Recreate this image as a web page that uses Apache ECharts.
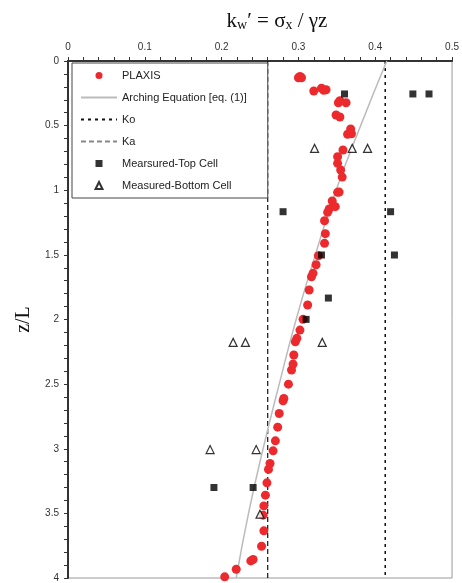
<!DOCTYPE html>
<html>
<head>
<meta charset="utf-8">
<script src="https://cdn.jsdelivr.net/npm/echarts@6/dist/echarts.min.js"></script>
<style>html,body{margin:0;padding:0;background:#fff}#c{width:462px;height:583px}</style>
</head>
<body>
<div id="c"></div>
<script>
// PLAXIS results: kw' values and z/L depths
var plaxisK = [0.300,0.302,0.304,0.320,0.330,0.333,0.336,0.354,0.352,0.362,0.349,0.354,0.368,0.364,0.369,0.358,0.351,0.351,0.355,0.357,0.351,0.353,0.344,0.348,0.340,0.338,0.334,0.335,0.334,0.326,0.323,0.319,0.317,0.314,0.312,0.306,0.302,0.298,0.296,0.294,0.293,0.291,0.287,0.281,0.280,0.275,0.273,0.270,0.267,0.263,0.261,0.259,0.257,0.255,0.254,0.255,0.252,0.241,0.238,0.219,0.204];
var plaxisZ = [0.13,0.12,0.13,0.232,0.211,0.227,0.222,0.307,0.323,0.323,0.418,0.433,0.526,0.567,0.563,0.689,0.740,0.792,0.843,0.898,1.016,1.014,1.083,1.127,1.145,1.171,1.236,1.336,1.411,1.507,1.576,1.643,1.669,1.772,1.888,1.999,2.082,2.146,2.172,2.275,2.345,2.391,2.500,2.611,2.629,2.727,2.833,2.939,3.016,3.114,3.160,3.264,3.359,3.442,3.514,3.635,3.754,3.857,3.868,3.932,3.991];
// Arching equation curve
var archK = [0.415,0.381,0.349,0.322,0.297,0.275,0.254,0.235,0.219];
var archZ = [0,0.5,1,1.5,2,2.5,3,3.5,4];
// Earth pressure coefficients
var Ko = 0.413;
var Ka = 0.260;
// Measured top cell
var topK = [0.360,0.449,0.470,0.280,0.420,0.330,0.425,0.339,0.310,0.190,0.241];
var topZ = [0.255,0.255,0.255,1.166,1.166,1.501,1.501,1.834,1.999,3.300,3.300];
// Measured bottom cell
var botK = [0.321,0.370,0.390,0.215,0.231,0.331,0.185,0.245,0.250];
var botZ = [0.676,0.676,0.676,2.177,2.177,2.177,3.006,3.006,3.506];
var xTicks = [0,0.1,0.2,0.3,0.4,0.5];
var yTicks = [0,0.5,1,1.5,2,2.5,3,3.5,4];

function pairs(a,b){return a.map(function(v,i){return [v,b[i]];});}

var chart = echarts.init(document.getElementById('c'), null, {renderer:'canvas'});
var labelFont = {fontFamily:'Liberation Sans, Arial', fontSize:10, color:'#333'};
var hideSym = {opacity:0};
chart.setOption({
  animation:false,
  backgroundColor:'#fff',
  title:{
    text:'k{s|w}′ = σ{s|x} / γz',
    left:272, top:5, textAlign:'center',
    textStyle:{fontFamily:'Liberation Serif, Times New Roman', fontSize:21, fontWeight:'normal', color:'#111',
      rich:{s:{fontFamily:'Liberation Serif', fontSize:14, color:'#111', verticalAlign:'bottom', padding:[8,0,0,0]}}}
  },
  grid:{left:68, top:61, right:8, bottom:5, show:true, borderColor:'#999', borderWidth:1, containLabel:false},
  legend:{
    orient:'vertical', left:72, top:63,
    padding:[7,21,7,8],
    backgroundColor:'#fff',
    borderColor:'#444', borderWidth:1,
    itemWidth:36, itemHeight:7, itemGap:11,
    textStyle:{fontFamily:'Liberation Sans, Arial', fontSize:11, color:'#222', lineHeight:11},
    data:[
      {name:'PLAXIS', icon:'circle'},
      {name:'Arching Equation [eq. (1)]', itemStyle:hideSym},
      {name:'Ko', itemStyle:hideSym},
      {name:'Ka', itemStyle:hideSym, lineStyle:{color:'#888'}},
      {name:'Mearsured-Top Cell', icon:'path://M0,0L10,0L10,10L0,10Z'},
      {name:'Measured-Bottom Cell', icon:'path://M5,0L10,10L0,10Z'}
    ]
  },
  xAxis:{
    type:'value', position:'top', min:0, max:0.5, interval:0.1,
    axisLine:{show:true, onZero:false, lineStyle:{color:'#333', width:2}},
    axisTick:{show:true, length:4, lineStyle:{color:'#333'}},
    minorTick:{show:true, splitNumber:5, length:4, lineStyle:{color:'#333'}},
    splitLine:{show:false},
    axisLabel:Object.assign({margin:9, formatter:function(v){return String(+v.toFixed(1));}}, labelFont)
  },
  yAxis:{
    type:'value', inverse:true, min:0, max:4, interval:0.5,
    name:'z/L', nameLocation:'middle', nameGap:32, nameRotate:90,
    nameTextStyle:{fontFamily:'Liberation Serif, Times New Roman', fontSize:20, color:'#111'},
    axisLine:{show:true, onZero:false, lineStyle:{color:'#333', width:2}},
    axisTick:{show:true, length:4, lineStyle:{color:'#333'}},
    minorTick:{show:true, splitNumber:5, length:4, lineStyle:{color:'#333'}},
    splitLine:{show:false},
    axisLabel:Object.assign({margin:9, formatter:function(v){return String(+v.toFixed(1));}}, labelFont)
  },
  series:[
    {name:'Ka', type:'line', data:[[Ka,0],[Ka,4]], symbol:'none', silent:true,
      lineStyle:{color:'#111', width:1.2, type:[5,3]}, z:1},
    {name:'Ko', type:'line', data:[[Ko,0],[Ko,4]], symbol:'none', silent:true,
      lineStyle:{color:'#111', width:1.5, type:[3,4]}, z:1},
    {name:'Arching Equation [eq. (1)]', type:'line', data:pairs(archK,archZ), symbol:'none', smooth:true,
      lineStyle:{color:'#bbb', width:1.5}, z:2},
    {name:'PLAXIS', type:'scatter', data:pairs(plaxisK,plaxisZ), symbol:'circle', symbolSize:9,
      itemStyle:{color:'#ec2a2e', opacity:1}, z:3},
    {name:'Mearsured-Top Cell', type:'scatter', data:pairs(topK,topZ), symbol:'rect', symbolSize:7,
      itemStyle:{color:'#000'}, z:4},
    {name:'Measured-Bottom Cell', type:'scatter', data:pairs(botK,botZ), symbol:'triangle', symbolSize:8,
      itemStyle:{color:'#fff', borderColor:'#000', borderWidth:1.2}, z:4}
  ]
});
</script>
</body>
</html>
